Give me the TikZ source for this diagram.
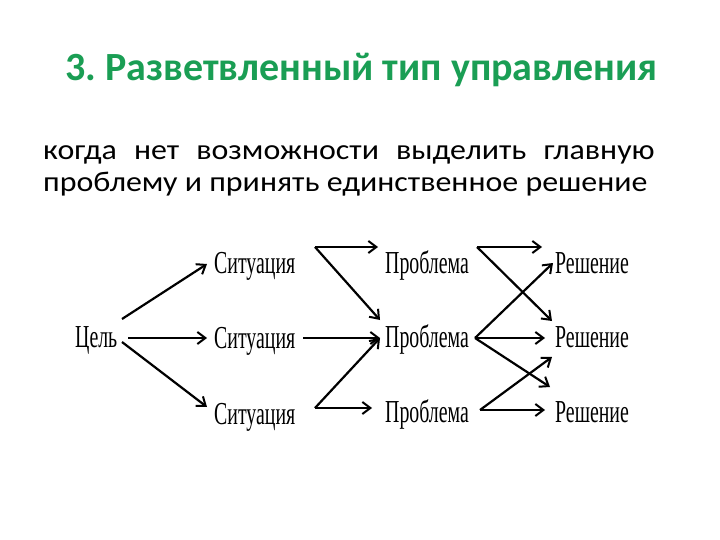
\documentclass[tikz,border=0pt]{standalone}
\usepackage{fontspec}
\usepackage{graphicx}
\setmainfont{Liberation Serif}
\newfontfamily\calibri{Carlito}
\usetikzlibrary{arrows.meta}
\definecolor{titlegreen}{RGB}{26,158,84}
\newcommand\cond[1]{\scalebox{0.62}[1]{#1}}
\frenchspacing
\begin{document}
\begin{tikzpicture}[x=1pt,y=-1pt,
  lbl/.style={anchor=base west,inner sep=0pt,font=\fontsize{32}{32}\selectfont},
  bodytext/.style={anchor=base west,inner sep=0pt,font=\calibri\fontsize{28.5}{32}\selectfont},
  arr/.style={line width=2.2pt,-{Straight Barb[length=8pt,width=12pt,line width=2pt]}}]
\useasboundingbox[fill=white] (0,0) rectangle (720,540);
\node[anchor=base west,inner sep=0pt,text=titlegreen,font=\calibri\bfseries\fontsize{40}{40}\selectfont] (title) at (65,81) {3. Разветвленный тип управления};
\node[bodytext] (body1) at (43,160)
 {\scalebox{1.12}[1]{\makebox[546pt][s]{когда нет возможности выделить главную}}};
\node[bodytext] (body2) at (43,192)
 {\scalebox{1.12}[1]{проблему и принять единственное решение}};
% nodes
\node[lbl] (goal) at (75,347) {\cond{Цель}};
\node[lbl] (s1) at (214,273) {\cond{Ситуация}};
\node[lbl] (s2) at (214,348) {\cond{Ситуация}};
\node[lbl] (s3) at (214,424) {\cond{Ситуация}};
\node[lbl] (p1) at (385,273) {\cond{Проблема}};
\node[lbl] (p2) at (385,347) {\cond{Проблема}};
\node[lbl] (p3) at (385,422) {\cond{Проблема}};
\node[lbl] (r1) at (555,273) {\cond{Решение}};
\node[lbl] (r2) at (555,347) {\cond{Решение}};
\node[lbl] (r3) at (555,422) {\cond{Решение}};
% junction points
\coordinate (g1) at (122,319);
\coordinate (g2) at (128,338);
\coordinate (g3) at (122,342);
\coordinate (s1o) at (315,247);
\coordinate (s2o) at (303,338);
\coordinate (s3o) at (315,408);
\coordinate (p1o) at (477,247);
\coordinate (p2o) at (475,338);
\coordinate (p3o) at (480,410);
% tips
\coordinate (ts1) at (207,264);
\coordinate (ts2) at (207,338);
\coordinate (ts3) at (207,407);
\coordinate (tp1) at (378,247);
\coordinate (tp2a) at (380,320);
\coordinate (tp2) at (380,338);
\coordinate (tp2b) at (380,338);
\coordinate (tp3) at (372,408);
\coordinate (tr1) at (542,247);
\coordinate (tr1b) at (553,263);
\coordinate (tr2a) at (552,321);
\coordinate (tr2) at (545,338);
\coordinate (tr2b) at (552,357);
\coordinate (tr3a) at (550,387);
\coordinate (tr3) at (545,410);
% connectors
\draw[arr] (g1) -- (ts1);
\draw[arr] (g2) -- (ts2);
\draw[arr] (g3) -- (ts3);
\draw[arr] (s1o) -- (tp1);
\draw[arr] (s1o) -- (tp2a);
\draw[arr] (s2o) -- (tp2);
\draw[arr] (s3o) -- (tp3);
\draw[arr] (s3o) -- (tp2b);
\draw[arr] (p1o) -- (tr1);
\draw[arr] (p1o) -- (tr2a);
\draw[arr] (p2o) -- (tr1b);
\draw[arr] (p2o) -- (tr2);
\draw[arr] (p2o) -- (tr3a);
\draw[arr] (p3o) -- (tr3);
\draw[arr] (p3o) -- (tr2b);
\end{tikzpicture}
\end{document}
